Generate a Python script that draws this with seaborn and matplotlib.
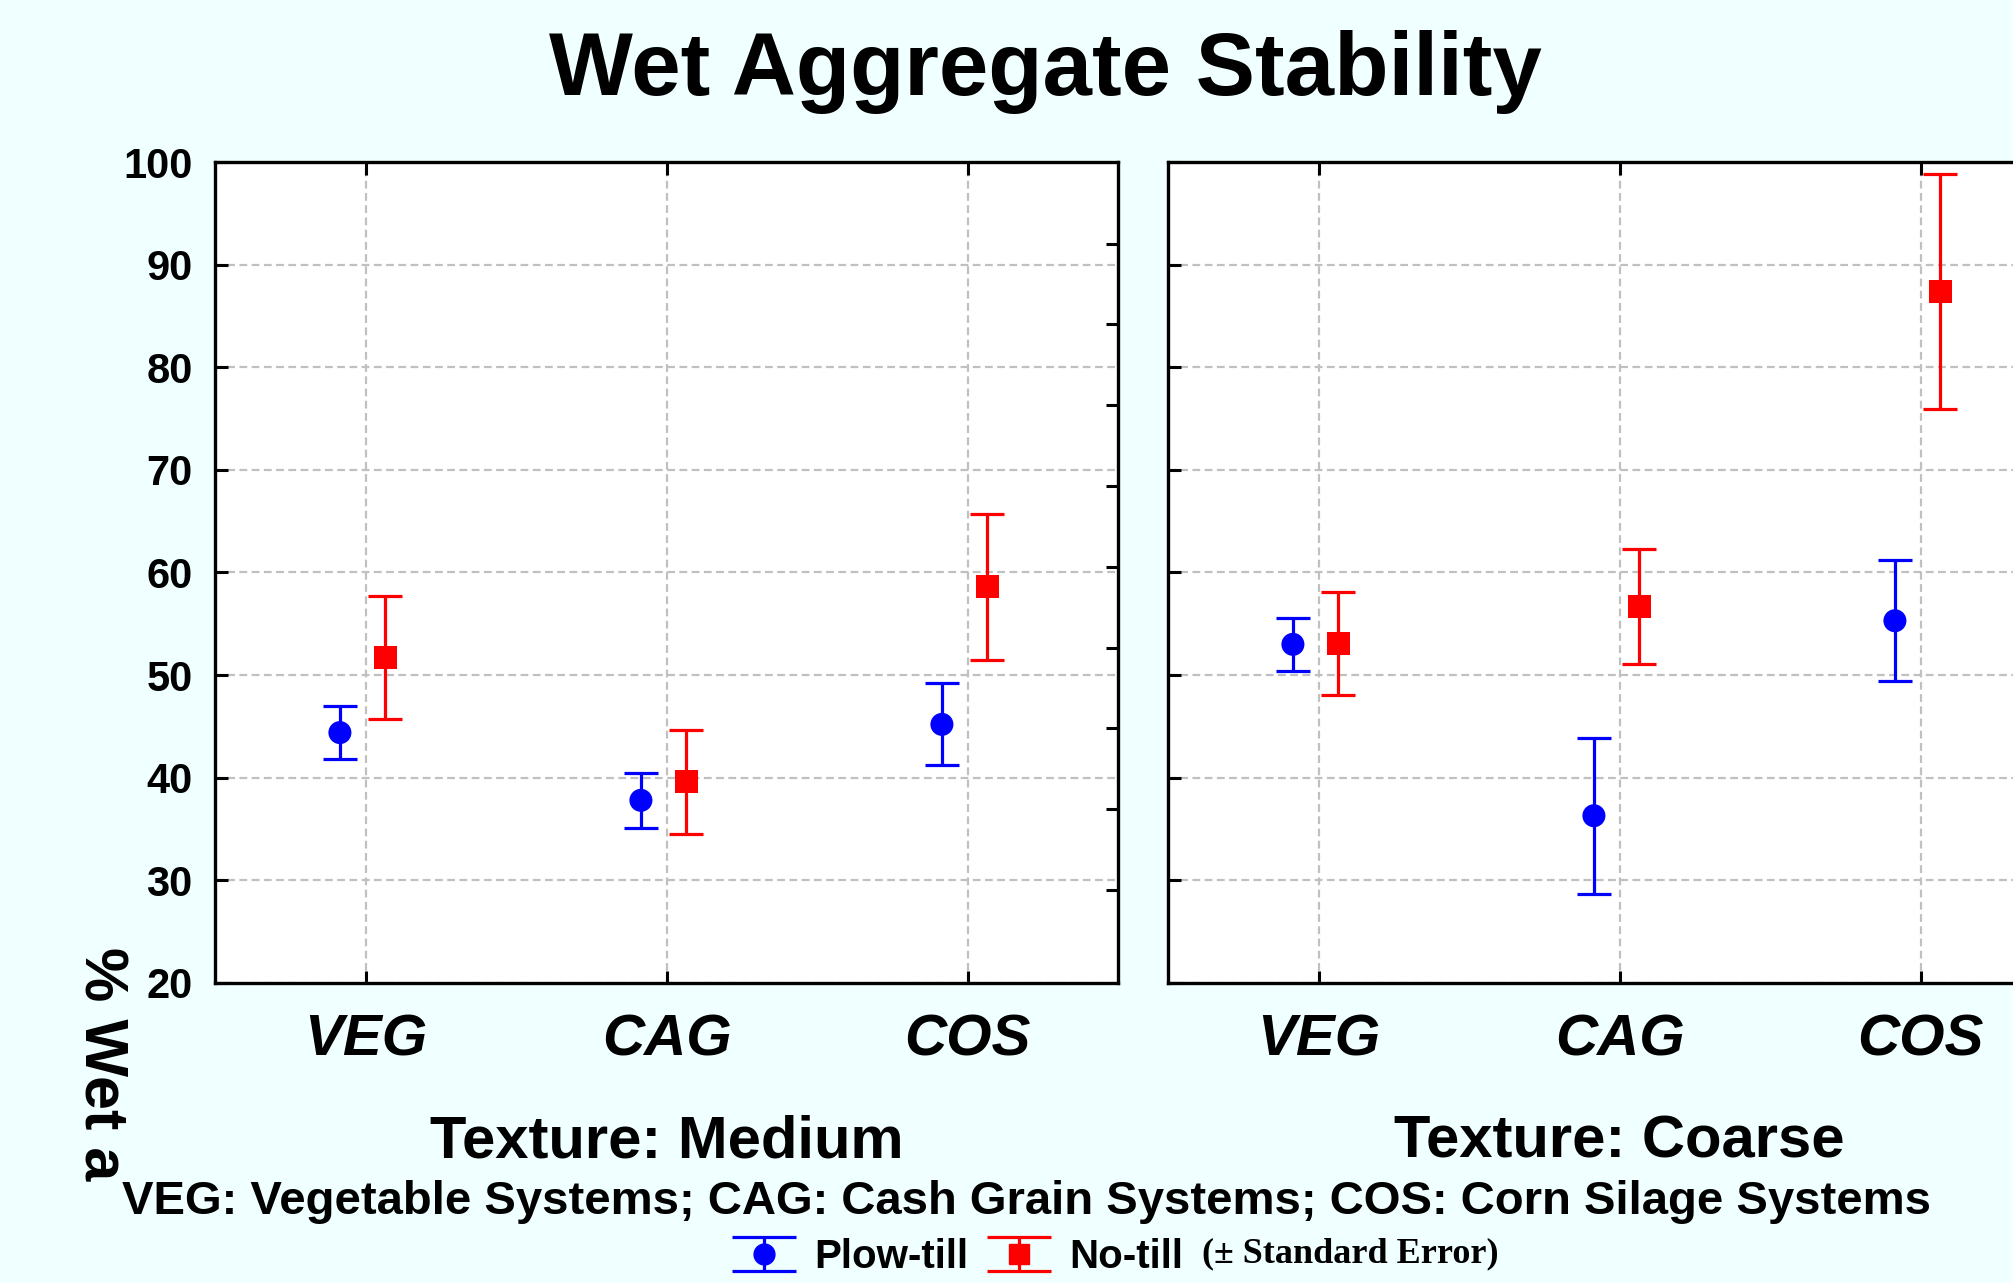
import numpy as np
import pandas as pd
import matplotlib
matplotlib.use("Agg")
import matplotlib.pyplot as plt
import seaborn as sns
from matplotlib.container import ErrorbarContainer
from matplotlib.legend_handler import HandlerErrorbar

# Data: mean and standard error
systems = ["VEG", "CAG", "COS"]
textures = ["Medium", "Coarse"]
medium_plow = [44.4, 37.8, 45.2]
medium_plow_se = [2.6, 2.7, 4.0]
medium_notill = [51.7, 39.6, 58.6]
medium_notill_se = [6.0, 5.1, 7.1]
coarse_plow = [53.0, 36.3, 55.3]
coarse_plow_se = [2.6, 7.6, 5.9]
coarse_notill = [53.1, 56.7, 87.4]
coarse_notill_se = [5.0, 5.6, 11.45]

rows = []
for tex, till, means, ses in [
    ("Medium", "Plow-till", medium_plow, medium_plow_se),
    ("Medium", "No-till", medium_notill, medium_notill_se),
    ("Coarse", "Plow-till", coarse_plow, coarse_plow_se),
    ("Coarse", "No-till", coarse_notill, coarse_notill_se),
]:
    for s, m, e in zip(systems, means, ses):
        rows.append({"texture": tex, "tillage": till, "system": s, "mean": m, "se": e})
df = pd.DataFrame(rows)

offsets = {"Plow-till": -0.085, "No-till": 0.065}
df["x"] = df["system"].map({s: i for i, s in enumerate(systems)}) + df["tillage"].map(offsets)

colors = {"Plow-till": "#0000FF", "No-till": "#FF0000"}
markers = {"Plow-till": "o", "No-till": "s"}

sns.set_style("ticks")
plt.rcParams["font.family"] = ["Liberation Sans", "DejaVu Sans"]
plt.rcParams["font.weight"] = "bold"
plt.rcParams["text.color"] = "black"
plt.rcParams["xtick.color"] = "black"
plt.rcParams["ytick.color"] = "black"
plt.rcParams["axes.labelcolor"] = "black"

bg = "#F0FFFF"
fig = plt.figure(figsize=(20.13, 12.83), dpi=100, facecolor=bg)
W, H = 2013, 1283
ax_l = fig.add_axes([215 / W, 1 - 983 / H, 903 / W, 821 / H])
ax_r = fig.add_axes([1168 / W, 1 - 983 / H, 903 / W, 821 / H])

grid_kw = dict(color="#C0C0C0", linewidth=1.6, linestyle=(0, (3.5, 2)))
lw_err = 2.3

for ax, tex in zip([ax_l, ax_r], textures):
    sub = df[df["texture"] == tex]
    ax.set_facecolor("white")
    for till in ["Plow-till", "No-till"]:
        d = sub[sub["tillage"] == till]
        ax.errorbar(d["x"], d["mean"], yerr=d["se"], fmt="none",
                    ecolor=colors[till], elinewidth=lw_err, capsize=12,
                    capthick=lw_err, zorder=3)
    sns.scatterplot(data=sub, x="x", y="mean", hue="tillage", style="tillage",
                    palette=colors, markers=markers, s=275, linewidth=0,
                    legend=False, ax=ax, zorder=4)
    ax.set_xlim(-0.5, 2.5)
    ax.set_ylim(20, 100)
    ax.set_xticks(range(len(systems)))
    ax.set_xticklabels(systems, fontsize=42, fontstyle="italic", fontweight="bold")
    ax.set_yticks(np.arange(20, 101, 10))
    ax.grid(True, **grid_kw)
    ax.set_axisbelow(True)
    ax.set_xlabel("Texture: " + tex, fontsize=43, fontweight="bold", labelpad=34)
    ax.set_ylabel("")
    ax.tick_params(axis="x", direction="in", length=9, width=2.2, top=True,
                   bottom=True, pad=22)
    ax.tick_params(axis="y", direction="in", length=9, width=2.2, left=True,
                   right=False, labelsize=30, pad=16)
    for sp in ax.spines.values():
        sp.set_linewidth(2.4)
        sp.set_color("black")

for lab in ax_l.get_yticklabels():
    lab.set_fontweight("bold")
ax_r.tick_params(axis="y", labelleft=False)

# odd ticks on the right edge of the left panel
tw = ax_l.twinx()
tw.set_ylim(20, 100)
tw.set_yticks(np.arange(92.05, 25, -7.875))
tw.tick_params(axis="y", direction="in", length=9, width=2.2, labelright=False)
for sp in tw.spines.values():
    sp.set_visible(False)

fig.text(1045 / W, 1 - 72 / H, "Wet Aggregate Stability", fontsize=64,
         fontweight="bold", ha="center", va="center")
fig.text(100 / W, 1 - 1064 / H, "% Wet a", fontsize=44, fontweight="bold",
         rotation=-90, ha="center", va="center")
fig.text(1027 / W, 1 - 1202 / H,
         "VEG: Vegetable Systems; CAG: Cash Grain Systems; COS: Corn Silage Systems",
         fontsize=34, fontweight="bold", ha="center", va="center")

# legend proxies (no visible data)
handles = []
for till in ["Plow-till", "No-till"]:
    h = ax_l.errorbar([np.nan], [np.nan], yerr=[np.nan], fmt=markers[till],
                      color=colors[till], markersize=15, elinewidth=lw_err,
                      capsize=23, capthick=lw_err, label=till)
    handles.append(h)
leg = fig.legend(handles=handles, labels=["Plow-till", "No-till"],
                 loc="center left", bbox_to_anchor=(732 / W, 1 - 1257 / H),
                 ncol=2, frameon=False, fontsize=29, borderpad=0,
                 borderaxespad=0, handlelength=1.6, handletextpad=0.45,
                 columnspacing=0.45,
                 handler_map={ErrorbarContainer: HandlerErrorbar(xerr_size=0.42)})
for t in leg.get_texts():
    t.set_fontweight("bold")
fig.text(1202 / W, 1 - 1254 / H, "(\u00b1 Standard Error)", fontsize=26,
         fontweight="bold", family=["Liberation Serif", "DejaVu Serif"],
         ha="left", va="center")

fig.savefig("out.png", dpi=100, facecolor=bg)
